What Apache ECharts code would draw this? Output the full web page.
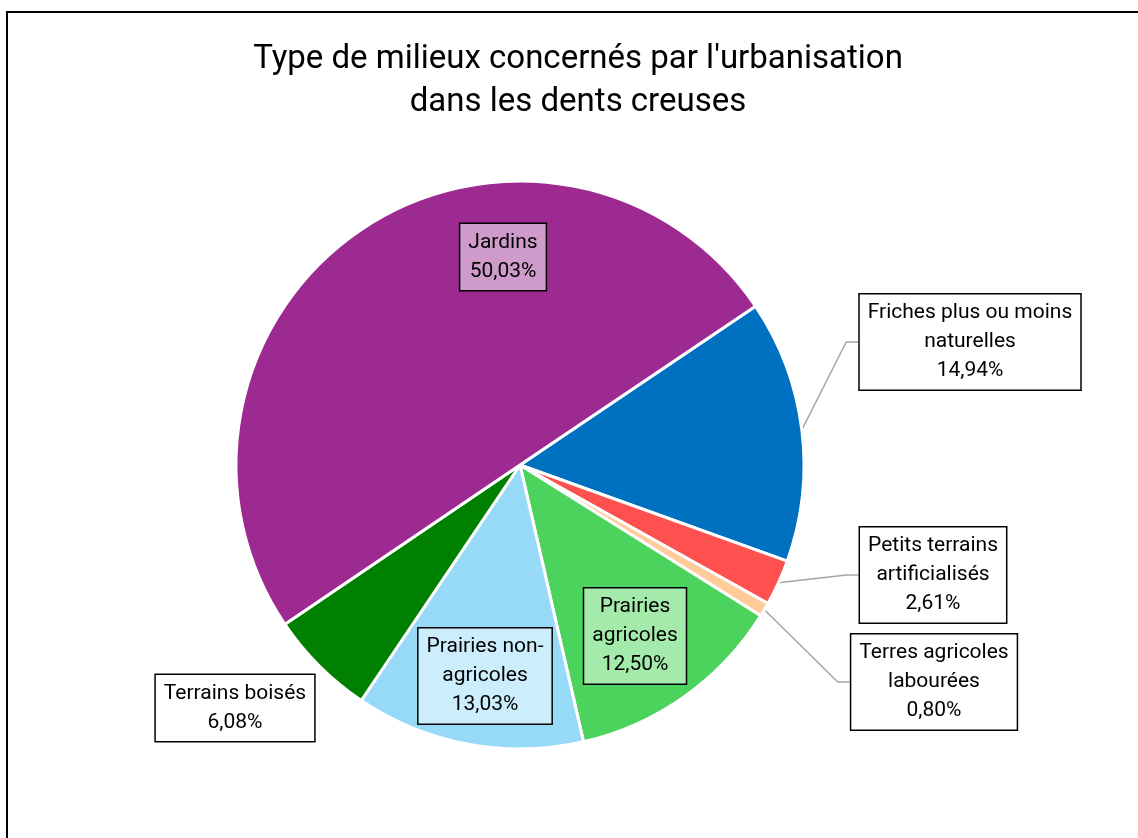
<!DOCTYPE html>
<html>
<head>
<meta charset="utf-8">
<script src="https://cdn.jsdelivr.net/npm/echarts@6/dist/echarts.min.js"></script>
<style>
  html, body { margin: 0; padding: 0; background: #fff; }
  #main { width: 1138px; height: 838px; }
</style>
</head>
<body>
<div id="main"></div>
<script>
  // données (ordre horaire à partir de "Friches")
  const categories = ['Friches plus ou moins naturelles', 'Petits terrains artificialisés', 'Terres agricoles labourées',
    'Prairies agricoles', 'Prairies non-agricoles', 'Terrains boisés', 'Jardins'];
  const wrappedNames = ['Friches plus ou moins\nnaturelles', 'Petits terrains\nartificialisés', 'Terres agricoles\nlabourées',
    'Prairies\nagricoles', 'Prairies non-\nagricoles', 'Terrains boisés', 'Jardins'];
  const values = [14.94, 2.61, 0.80, 12.50, 13.03, 6.08, 50.03];
  const colors = ['#0070C0', '#FF5050', '#FFCC99', '#4BD35D', '#97DAF7', '#008000', '#9D2A91'];
  const labelFills = ['#fff', '#fff', '#fff', '#A4EAAA', '#CCEEFC', '#fff', '#CF9BCB'];
  const hasLine = [true, true, true, false, false, false, false];
  const titleText = "Type de milieux concernés par l'urbanisation\ndans les dents creuses";

  // centres des étiquettes (px)
  const labelPos = [[970, 342], [933, 575], [934, 682], [635, 636], [485, 676], [235, 708], [503, 257]];

  const chart = echarts.init(document.getElementById('main'));
  const font = 'Roboto';

  const option = {
    animation: false,
    graphic: [{
      type: 'rect',
      shape: { x: 7, y: 12, width: 1200, height: 900 },
      style: { fill: 'none', stroke: '#000', lineWidth: 2 },
      silent: true
    }, {
      type: 'text',
      x: 578,
      y: 38,
      style: {
        text: titleText,
        fontFamily: font,
        fontSize: 33,
        lineHeight: 43,
        fill: '#000',
        align: 'center',
        verticalAlign: 'top'
      },
      silent: true
    }],
    series: [{
      type: 'pie',
      center: [520, 465],
      radius: 284,
      startAngle: 34,
      clockwise: true,
      avoidLabelOverlap: false,
      itemStyle: { borderColor: '#fff', borderWidth: 3 },
      label: {
        position: 'outside',
        overflow: 'none',
        fontFamily: font,
        fontSize: 21,
        lineHeight: 29,
        color: '#000',
        align: 'center',
        borderColor: '#000',
        borderWidth: 1.5,
        padding: [4, 8, 4, 8],
        formatter: p => wrappedNames[p.dataIndex] + '\n' + p.value.toFixed(2).replace('.', ',') + '%'
      },
      labelLine: { lineStyle: { color: '#A6A6A6', width: 1.5 } },
      labelLayout: function (params) {
        const i = params.dataIndex;
        const pos = labelPos[i];
        const res = { x: pos[0], y: pos[1], align: 'center', verticalAlign: 'middle' };
        if (hasLine[i] && params.labelLinePoints) {
          const start = params.labelLinePoints[0];
          const left = pos[0] - params.labelRect.width / 2;
          res.labelLinePoints = [start, [left - 12, pos[1]], [left, pos[1]]];
        }
        return res;
      },
      data: values.map((v, i) => ({
        name: categories[i],
        value: v,
        itemStyle: { color: colors[i] },
        label: { backgroundColor: labelFills[i] },
        labelLine: { show: hasLine[i] }
      }))
    }]
  };

  chart.setOption(option);
</script>
</body>
</html>
